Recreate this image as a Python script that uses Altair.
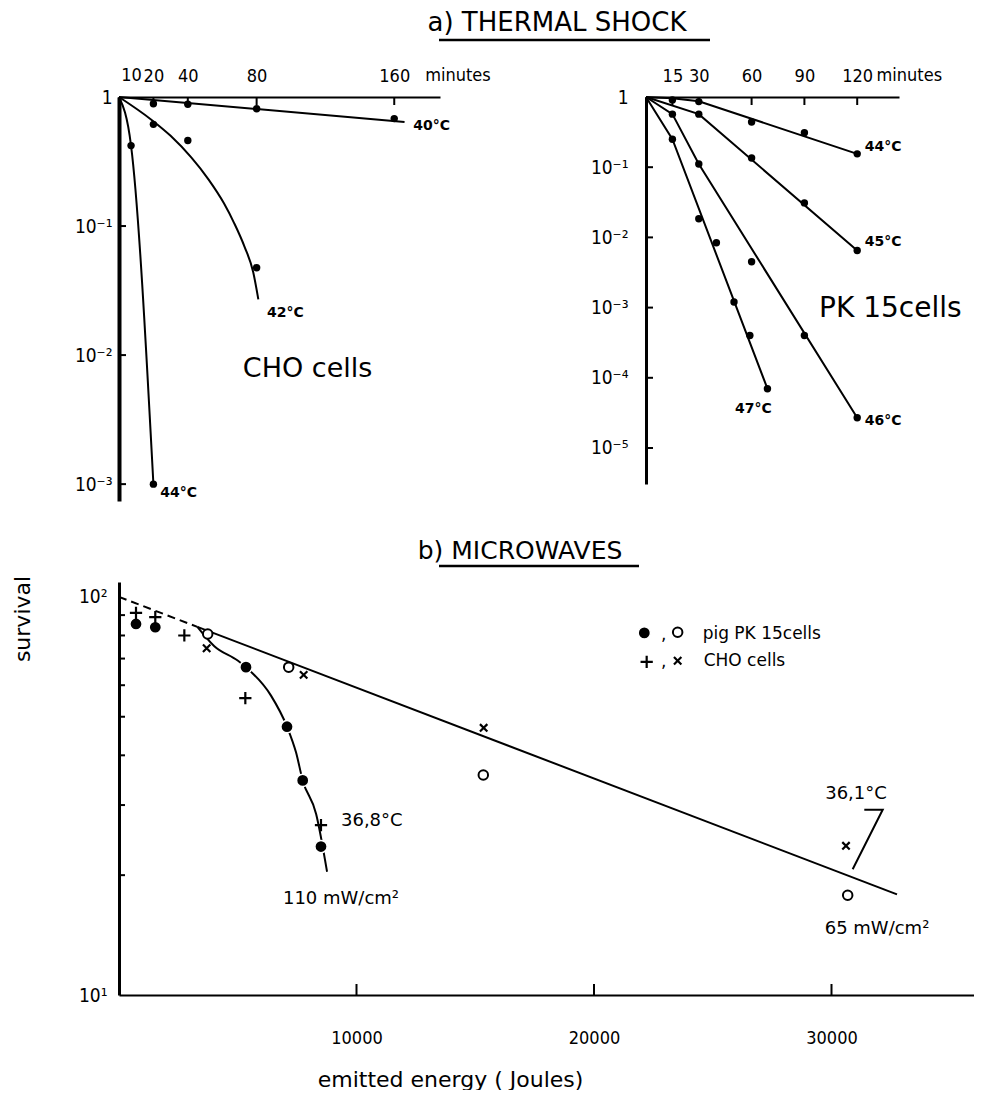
import altair as alt
import pandas as pd

FONT = "DejaVu Sans"
COND = "'Liberation Sans Narrow', 'DejaVu Sans Condensed', Roboto, 'DejaVu Sans'"
PLUS = "M-1,0L1,0M0,-1L0,1"
CROSS = "M-1,-1L1,1M-1,1L1,-1"

# ---------------- (a) THERMAL SHOCK : CHO cells ----------------
cho_40_t = [20, 40, 80, 160]
cho_40_s = [0.887, 0.878, 0.81, 0.68]
cho_42_t = [20, 40, 80]
cho_42_s = [0.614, 0.46, 0.0475]
cho_44_t = [7, 20]
cho_44_s = [0.42, 0.001]
cho_40_fit_t = [0, 166]
cho_40_fit_s = [1.0, 0.64]
cho_42_fit_t = [0, 18.6, 30, 42, 52, 61, 67, 73, 78, 81]
cho_42_fit_s = [1.0, 0.67, 0.5, 0.34, 0.23, 0.15, 0.105, 0.069, 0.044, 0.027]
cho_44_fit_t = [0, 7, 20]
cho_44_fit_s = [1.0, 0.42, 0.001]
cho_x_ticks = [20, 40, 80, 160]
cho_x_first_label = "10"
cho_x_first_pos = 7.3
cho_y_ticks = [1, 0.1, 0.01, 0.001]
cho_lab_text = ["40°C", "42°C", "44°C"]
cho_lab_t = [171, 86, 24]
cho_lab_s = [0.60, 0.0212, 0.00085]

# ---------------- (a) THERMAL SHOCK : PK 15 cells ----------------
pk_44_t = [15, 30, 60, 90, 120]
pk_44_s = [0.91, 0.86, 0.44, 0.31, 0.155]
pk_45_t = [30, 60, 90, 120]
pk_45_s = [0.57, 0.135, 0.031, 0.0065]
pk_46_t = [15, 30, 60, 90, 120]
pk_46_s = [0.57, 0.111, 0.0045, 0.0004, 0.000027]
pk_47_t = [15, 30, 40, 50, 59, 69]
pk_47_s = [0.25, 0.0184, 0.0084, 0.0012, 0.0004, 0.00007]
pk_44_fit_t = [0, 15, 30, 120]
pk_44_fit_s = [1.0, 0.96, 0.87, 0.155]
pk_45_fit_t = [0, 30, 120]
pk_45_fit_s = [1.0, 0.57, 0.0065]
pk_46_fit_t = [0, 15, 30, 120]
pk_46_fit_s = [1.0, 0.57, 0.111, 0.000027]
pk_47_fit_t = [0, 15, 69]
pk_47_fit_s = [1.0, 0.25, 0.00007]
pk_x_ticks = [15, 30, 60, 90, 120]
pk_y_ticks = [1, 0.1, 0.01, 0.001, 0.0001, 0.00001]
pk_lab_text = ["44°C", "45°C", "46°C", "47°C"]
pk_lab_t = [122, 122, 122, 61]
pk_lab_s = [0.194, 0.0086, 0.000024, 0.000036]

# ---------------- (b) MICROWAVES ----------------
pk110_e = [716, 1528, 5347, 7074, 7735, 8505]        # filled circles
pk110_s = [85.5, 83.9, 66.6, 47.2, 34.6, 23.6]
pk65_e = [3735, 7145, 15339, 30682]                  # open circles
pk65_s = [80.7, 66.6, 35.7, 17.8]
cho110_e = [716, 1528, 2751, 5319, 8505]             # plus
cho110_s = [91.2, 89.0, 80.0, 55.7, 26.7]
cho65_e = [3691, 7775, 15354, 30610]                 # cross
cho65_s = [74.3, 63.7, 46.9, 23.7]
common_fit_e = [0, 3300]
common_fit_s = [100, 84.1]
fit65_e = [3300, 32758]
fit65_s = [84.1, 17.9]
fit110_e = [3300, 4014, 4996, 5347, 6400, 7074, 7453, 7735, 8300, 8760]
fit110_s = [84.1, 75.2, 69.2, 66.6, 56.5, 47.2, 40.7, 34.6, 28.5, 20.4]
leader_e = [31381, 32156, 30892]
leader_s = [29.2, 29.2, 20.7]
mw_x_ticks = [10000, 20000, 30000]
mw_minor = [20, 30, 40, 50, 60, 70, 80, 90]

# ---------------- helpers ----------------
def pts(name, t, s):
    return pd.DataFrame({"t": t, "s": s, "series": name})

def fit(name, t, s):
    return pd.DataFrame({"t": t, "s": s, "series": name, "order": list(range(len(t)))})

one = pd.DataFrame({"k": [0]})

def sup_expr(pairs):
    expr = "''"
    for v, lab in reversed(pairs):
        expr = f"abs(log(datum.value)/log(10) - ({v})) < 0.01 ? '{lab}' : " + expr
    return expr

# ---------------- left panel ----------------
LW, LH = 321, 404
lx = alt.X("t:Q", scale=alt.Scale(domain=[0, 186.6], nice=False, zero=False),
           axis=alt.Axis(orient="top", values=cho_x_ticks, title=None, grid=False, ticks=False,
                         labelFont=COND, labelFontSize=18, labelPadding=12, labelOverlap=False,
                         domainWidth=2, domainColor="black", labelColor="black", labelFlush=False))
ly = alt.Y("s:Q", scale=alt.Scale(type="log", domain=[7.4e-4, 1], nice=False),
           axis=alt.Axis(values=cho_y_ticks, title=None, grid=False, ticks=False,
                         labelExpr=sup_expr([(0, "1"), (-1, "10⁻¹"), (-2, "10⁻²"), (-3, "10⁻³")]),
                         labelFont=COND, labelFontSize=19, labelPadding=7, labelOverlap=False,
                         domainWidth=4, domainColor="black", labelColor="black", labelFlush=False))

cho_pts = pd.concat([pts("40", cho_40_t, cho_40_s), pts("42", cho_42_t, cho_42_s),
                     pts("44", cho_44_t, cho_44_s)])
cho_fit = pd.concat([fit("40", cho_40_fit_t, cho_40_fit_s), fit("42", cho_42_fit_t, cho_42_fit_s),
                     fit("44", cho_44_fit_t, cho_44_fit_s)])
cho_labels = pd.DataFrame({"t": cho_lab_t, "s": cho_lab_s, "label": cho_lab_text})
cho_top_text = pd.DataFrame({"t": [cho_x_first_pos, 178], "s": [1, 1],
                             "label": [cho_x_first_label, "minutes"], "align": ["center", "left"]})

left = alt.layer(
    alt.Chart(cho_fit).mark_line(color="black", strokeWidth=2, interpolate="monotone").encode(
        x=lx, y=ly, detail="series:N", order="order:Q"),
    alt.Chart(cho_pts).mark_circle(size=55, color="black", opacity=1).encode(x=lx, y=ly),
    alt.Chart(pd.DataFrame({"s": cho_y_ticks[1:]})).mark_rule(color="black", strokeWidth=2).encode(
        y=ly, x=alt.value(0), x2=alt.value(7)),
    alt.Chart(pd.DataFrame({"t": cho_x_ticks})).mark_rule(color="black", strokeWidth=2).encode(
        x=lx, y=alt.value(0), y2=alt.value(8)),
    alt.Chart(cho_labels).mark_text(font=FONT, fontSize=14, fontWeight="bold", align="left",
                                    baseline="middle", color="black").encode(x=lx, y=ly, text="label:N"),
    alt.Chart(pd.DataFrame({"t": [72], "s": [0.0078], "label": ["CHO cells"]})).mark_text(
        font=FONT, fontSize=27, align="left", baseline="middle", color="black").encode(
        x=lx, y=ly, text="label:N"),
    alt.Chart(cho_top_text[cho_top_text["align"] == "center"]).mark_text(
        font=COND, fontSize=18, align="center", baseline="bottom", dy=-12, color="black").encode(
        x=lx, y=ly, text="label:N"),
    alt.Chart(cho_top_text[cho_top_text["align"] == "left"]).mark_text(
        font=COND, fontSize=18, align="left", baseline="bottom", dy=-12, color="black").encode(
        x=lx, y=ly, text="label:N"),
    alt.Chart(one).mark_text(text="a) THERMAL SHOCK", font=FONT, fontSize=26, align="center",
                             baseline="middle", color="black").encode(x=alt.value(438), y=alt.value(-74)),
    alt.Chart(one).mark_rule(color="black", strokeWidth=2.5).encode(
        x=alt.value(320), x2=alt.value(591), y=alt.value(-57)),
    # invisible twin of the shared "survival" label, keeps both rows' left extents equal
    alt.Chart(one).mark_text(text="survival", font=FONT, fontSize=22, angle=270, align="center",
                             baseline="middle", opacity=0).encode(x=alt.value(-96), y=alt.value(200)),
).properties(width=LW, height=LH)

# ---------------- right panel ----------------
RW, RH = 253, 387
rx = alt.X("t:Q", scale=alt.Scale(domain=[0, 143.75], nice=False, zero=False),
           axis=alt.Axis(orient="top", values=pk_x_ticks, title=None, grid=False, ticks=False,
                         labelFont=COND, labelFontSize=18, labelPadding=12, labelOverlap=False,
                         domainWidth=2, domainColor="black", labelColor="black", labelFlush=False))
ry = alt.Y("s:Q", scale=alt.Scale(type="log", domain=[3.07e-6, 1], nice=False),
           axis=alt.Axis(values=pk_y_ticks, title=None, grid=False, ticks=False,
                         labelExpr=sup_expr([(0, "1"), (-1, "10⁻¹"), (-2, "10⁻²"), (-3, "10⁻³"),
                                             (-4, "10⁻⁴"), (-5, "10⁻⁵")]),
                         labelFont=COND, labelFontSize=19, labelPadding=18, labelOverlap=False,
                         domainWidth=3, domainColor="black", labelColor="black", labelFlush=False))

pk_pts = pd.concat([pts("44", pk_44_t, pk_44_s), pts("45", pk_45_t, pk_45_s),
                    pts("46", pk_46_t, pk_46_s), pts("47", pk_47_t, pk_47_s)])
pk_fit = pd.concat([fit("44", pk_44_fit_t, pk_44_fit_s), fit("45", pk_45_fit_t, pk_45_fit_s),
                    fit("46", pk_46_fit_t, pk_46_fit_s), fit("47", pk_47_fit_t, pk_47_fit_s)])
pk_labels = pd.DataFrame({"t": pk_lab_t, "s": pk_lab_s, "label": pk_lab_text,
                          "align": ["left", "left", "left", "center"]})

right = alt.layer(
    alt.Chart(pk_fit).mark_line(color="black", strokeWidth=2).encode(
        x=rx, y=ry, detail="series:N", order="order:Q"),
    alt.Chart(pk_pts).mark_circle(size=55, color="black", opacity=1).encode(x=rx, y=ry),
    alt.Chart(pd.DataFrame({"s": pk_y_ticks[1:]})).mark_rule(color="black", strokeWidth=2).encode(
        y=ry, x=alt.value(0), x2=alt.value(7)),
    alt.Chart(pd.DataFrame({"t": pk_x_ticks})).mark_rule(color="black", strokeWidth=2).encode(
        x=rx, y=alt.value(0), y2=alt.value(8)),
    alt.Chart(pk_labels[pk_labels["align"] == "left"]).mark_text(
        font=FONT, fontSize=14, fontWeight="bold", align="left", baseline="middle", dx=4,
        color="black").encode(x=rx, y=ry, text="label:N"),
    alt.Chart(pk_labels[pk_labels["align"] == "center"]).mark_text(
        font=FONT, fontSize=14, fontWeight="bold", align="center", baseline="middle",
        color="black").encode(x=rx, y=ry, text="label:N"),
    alt.Chart(pd.DataFrame({"t": [98.3], "s": [0.00095], "label": ["PK 15cells"]})).mark_text(
        font=FONT, fontSize=28, align="left", baseline="middle", color="black").encode(
        x=rx, y=ry, text="label:N"),
    alt.Chart(pd.DataFrame({"t": [131], "s": [1], "label": ["minutes"]})).mark_text(
        font=COND, fontSize=18, align="left", baseline="bottom", dy=-12, color="black").encode(
        x=rx, y=ry, text="label:N"),
).properties(width=RW, height=RH)

# ---------------- bottom panel ----------------
BW, BH = 855, 413
bx = alt.X("e:Q", scale=alt.Scale(domain=[0, 36000], nice=False, zero=False),
           axis=alt.Axis(values=mw_x_ticks, format="d", grid=False, ticks=False,
                         labelFont=COND, labelFontSize=18, labelPadding=34, labelOverlap=False,
                         domainWidth=2, domainColor="black", labelColor="black",
                         title="emitted energy ( Joules)", titleFont=FONT, titleFontSize=22,
                         titleFontWeight="normal", titleColor="black", titleX=331, titleY=84,
                         titleAlign="center", titleBaseline="middle"))
by = alt.Y("s:Q", scale=alt.Scale(type="log", domain=[10, 109], nice=False),
           axis=alt.Axis(values=[10, 100], title=None, grid=False, ticks=False,
                         labelExpr=sup_expr([(2, "10²"), (1, "10¹")]),
                         labelFont=COND, labelFontSize=19, labelPadding=12, labelOverlap=False,
                         domainWidth=3, domainColor="black", labelColor="black", labelFlush=False))

def mpts(e, s):
    return pd.DataFrame({"e": e, "s": s})

mw_fit = pd.concat([
    pd.DataFrame({"e": fit65_e, "s": fit65_s, "series": "65", "order": range(len(fit65_e))}),
    pd.DataFrame({"e": fit110_e, "s": fit110_s, "series": "110", "order": range(len(fit110_e))}),
])
mw_common = pd.DataFrame({"e": common_fit_e, "s": common_fit_s, "order": range(len(common_fit_e))})
leader = pd.DataFrame({"e": leader_e, "s": leader_s, "order": range(len(leader_e))})

ann = pd.DataFrame({
    "e": [9347, 9347, 31916, 31032],
    "s": [27.4, 17.4, 14.65, 32.0],
    "label": ["36,8°C", "110 mW/cm²", "65 mW/cm²", "36,1°C"],
    "align": ["left", "center", "center", "center"],
})
leg_text = pd.DataFrame({"e": [24575, 24618, 22821, 22821], "s": [80.7, 69.1, 80.2, 68.6],
                         "label": ["pig PK 15cells", "CHO cells", ",", ","]})

bottom = alt.layer(
    alt.Chart(mw_common).mark_line(color="black", strokeWidth=2, strokeDash=[8, 5]).encode(
        x=bx, y=by, order="order:Q"),
    alt.Chart(mw_fit).mark_line(color="black", strokeWidth=2, interpolate="monotone").encode(
        x=bx, y=by, detail="series:N", order="order:Q"),
    alt.Chart(leader).mark_line(color="black", strokeWidth=2).encode(x=bx, y=by, order="order:Q"),
    alt.Chart(pd.DataFrame({"s": mw_minor})).mark_rule(color="black", strokeWidth=2).encode(
        y=by, x=alt.value(0), x2=alt.value(6)),
    alt.Chart(pd.DataFrame({"e": mw_x_ticks})).mark_rule(color="black", strokeWidth=2).encode(
        x=bx, y=alt.value(BH - 11), y2=alt.value(BH)),
    alt.Chart(mpts(pk110_e + [22118], pk110_s + [81.2])).mark_point(
        shape="circle", filled=True, fill="black", stroke="white", strokeWidth=1.5, size=150,
        opacity=1).encode(x=bx, y=by),
    alt.Chart(mpts(pk65_e + [23523], pk65_s + [81.5])).mark_point(
        shape="circle", filled=True, fill="white", stroke="black", strokeWidth=2, size=90,
        opacity=1).encode(x=bx, y=by),
    alt.Chart(mpts(cho110_e + [22218], cho110_s + [68.7])).mark_point(
        shape=PLUS, filled=False, stroke="black", strokeWidth=2.2, size=150, opacity=1).encode(
        x=bx, y=by),
    alt.Chart(mpts(cho65_e + [23523], cho65_s + [69.1])).mark_point(
        shape=CROSS, filled=False, stroke="black", strokeWidth=2.2, size=55, opacity=1).encode(
        x=bx, y=by),
    alt.Chart(ann[ann["align"] == "left"]).mark_text(
        font=FONT, fontSize=18, align="left", baseline="middle", color="black").encode(
        x=bx, y=by, text="label:N"),
    alt.Chart(ann[ann["align"] == "center"]).mark_text(
        font=FONT, fontSize=18, align="center", baseline="middle", color="black").encode(
        x=bx, y=by, text="label:N"),
    alt.Chart(leg_text).mark_text(font=FONT, fontSize=17, align="left", baseline="middle",
                                  color="black").encode(x=bx, y=by, text="label:N"),
    alt.Chart(one).mark_text(text="b) MICROWAVES", font=FONT, fontSize=25, align="center",
                             baseline="middle", color="black").encode(x=alt.value(401), y=alt.value(-31)),
    alt.Chart(one).mark_rule(color="black", strokeWidth=2.5).encode(
        x=alt.value(320), x2=alt.value(520), y=alt.value(-16)),
    alt.Chart(one).mark_text(text="survival", font=FONT, fontSize=22, angle=270, align="center",
                             baseline="middle", color="black").encode(x=alt.value(-96), y=alt.value(37)),
).properties(width=BW, height=BH)

top = alt.hconcat(left, right, spacing=206, bounds="flush")
chart = alt.vconcat(top, bottom, spacing=38).properties(
    padding={"left": 4, "top": 2, "right": 0, "bottom": 0}
).configure_view(stroke=None)

chart.save("out.html", embed_options={"renderer": "svg", "actions": False})
